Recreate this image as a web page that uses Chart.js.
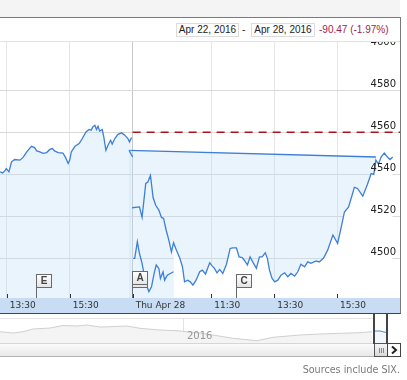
<!DOCTYPE html>
<html>
<head>
<meta charset="utf-8">
<script src="https://cdn.jsdelivr.net/npm/chart.js@4.4.0/dist/chart.umd.min.js"></script>
<style>
  body { margin: 0; width: 407px; height: 380px; position: relative; overflow: hidden; background: #fff; font-family: "DejaVu Sans", Verdana, sans-serif; }
  .abs { position: absolute; }
  #topbar { left: 0; top: 0; width: 400px; height: 17px; background: #f4f4f4; }
  #panel { left: -1px; top: 17px; width: 402px; height: 297px; box-sizing: border-box; border: 1px solid #7a7a7a; border-bottom-color: #444; }
  #sep { left: 0; top: 41px; width: 400px; height: 1px; background: #e2e2e2; }
  .datebox { top: 23px; height: 14px; box-sizing: border-box; border: 1px solid #dcdcdc; font: 10px "Liberation Sans", Arial, sans-serif; color: #222; line-height: 12px; text-align: center; }
  #band { left: 0; top: 298px; width: 400px; height: 15px; background: #c8dcf3; }
  #wrap { left: 0; top: 42px; width: 400px; height: 271px; }
  #navwrap { left: 0; top: 318px; width: 387px; height: 25px; }
  #navtop { left: 0; top: 318px; width: 374px; height: 1px; background: #e4e4e4; }
  #track { left: 0; top: 343px; width: 374px; height: 14px; box-sizing: border-box; border-top: 1px solid #d6d6d6; border-bottom: 1px solid #b5b5b5; background: linear-gradient(#fbfbfb, #e9e9e9); }
  #thumb { left: 374px; top: 343px; width: 14px; height: 14px; box-sizing: border-box; border: 1px solid #555; background: linear-gradient(#f6f6f6, #d8d8d8); }
  #btn { left: 387px; top: 343px; width: 14px; height: 14px; box-sizing: border-box; border: 1px solid #444; background: #fff; }
  .hline { width: 2px; top: 313px; height: 31px; background: #444; }
</style>
</head>
<body>
<div id="topbar" class="abs"></div>
<div id="panel" class="abs"></div>
<div id="band" class="abs"></div>
<div id="wrap" class="abs"><canvas id="myChart" width="400" height="271"></canvas></div>
<div id="sep" class="abs"></div>
<div class="abs datebox" style="left:176px;width:63px;">Apr 22, 2016</div>
<div class="abs" style="left:242px;top:24px;font:10px 'Liberation Sans',Arial,sans-serif;color:#222;">-</div>
<div class="abs datebox" style="left:251px;width:64px;">Apr 28, 2016</div>
<div class="abs" style="left:319px;top:24px;font:10px 'Liberation Sans',Arial,sans-serif;color:#a3234f;">-90.47 (-1.97%)</div>

<div id="navtop" class="abs"></div>
<div class="abs" style="left:183px;top:318px;width:1px;height:25px;background:#e2e2e2;"></div>
<div class="abs" style="left:21px;top:337px;width:1px;height:6px;background:#d0d0d0;"></div>
<div class="abs" style="left:339px;top:337px;width:1px;height:6px;background:#d0d0d0;"></div>
<div id="navwrap" class="abs"><canvas id="navChart" width="387" height="25"></canvas></div>
<div class="abs" style="left:187px;top:330px;font-size:10px;color:#999;">2016</div>
<div id="track" class="abs"></div>
<div id="thumb" class="abs"><svg width="12" height="12" style="display:block"><path d="M4.5 4v5M6.5 4v5M8.5 4v5" stroke="#888" stroke-width="1"/></svg></div>
<div id="btn" class="abs"><svg width="12" height="12" style="display:block"><path d="M4 2.5l4 3.5-4 3.5" fill="none" stroke="#222" stroke-width="2"/></svg></div>
<div class="abs hline" style="left:373px;"></div>
<div class="abs hline" style="left:386px;"></div>
<div class="abs" style="right:7px;top:364px;font-size:9.6px;color:#7a7a7a;">Sources include SIX.</div>

<script>
// time axis: trading minutes counted from Apr 27 09:00 (Apr 28 opens at 510)
const xTickValues = [270, 390, 510, 660, 780, 900];
const xTickLabels = ['13:30', '15:30', 'Thu Apr 28', '11:30', '13:30', '15:30'];
const yTickValues = [4500, 4520, 4540, 4560, 4580, 4600];
const prevClose = 4560;
const prevCloseRange = [510, 1020];

const apr27Times = [257, 262, 266, 269, 274, 279, 285, 295, 301, 308, 317, 323, 327, 333, 339, 346, 352, 357, 361, 368, 377, 382, 387, 390, 393, 400, 408, 414, 421, 427, 431, 434, 438, 441, 444, 447, 452, 455, 459, 463, 468, 471, 476, 482, 489, 495, 501, 504, 508];
const apr27Values = [4541.1, 4540.6, 4541.6, 4542.7, 4541.1, 4545.9, 4547.0, 4546.7, 4548.0, 4550.6, 4553.3, 4552.7, 4551.1, 4550.6, 4549.9, 4550.3, 4551.8, 4552.2, 4551.1, 4550.3, 4550.1, 4548.0, 4545.1, 4546.7, 4550.6, 4553.3, 4554.6, 4557.0, 4560.1, 4561.3, 4561.0, 4562.5, 4563.3, 4561.3, 4562.9, 4560.6, 4561.3, 4557.8, 4551.4, 4553.8, 4556.2, 4554.3, 4557.0, 4559.0, 4559.7, 4558.6, 4557.0, 4555.4, 4557.5];

const jumpTimes = [503, 974];
const jumpValues = [4551.4, 4548.2];
const spurTimes = [503, 510];
const spurValues = [4551.4, 4548.2];

const apr28Times = [509, 523, 528, 535, 539, 544, 549, 554, 560, 565, 569, 574, 579, 584, 588, 593, 600, 605, 609, 615, 620, 625, 631, 638, 643, 649, 657, 662, 666, 671, 676, 682, 689, 696, 701, 708, 713, 719, 723, 729, 734, 739, 746, 752, 757, 763, 767, 771, 776, 781, 787, 793, 800, 806, 812, 819, 825, 831, 838, 844, 850, 860, 866, 874, 882, 892, 901, 908, 914, 922, 933, 939, 949, 958, 965, 970, 974, 979, 984, 990, 996, 1001, 1006];
const apr28Values = [4524.0, 4524.4, 4519.4, 4535.6, 4536.3, 4539.4, 4528.9, 4525.2, 4522.9, 4519.4, 4518.9, 4513.3, 4508.6, 4503.0, 4507.3, 4504.1, 4499.9, 4495.9, 4488.7, 4489.5, 4488.7, 4487.1, 4489.5, 4493.5, 4494.3, 4492.4, 4497.8, 4496.2, 4495.1, 4493.0, 4494.6, 4492.7, 4497.1, 4504.6, 4504.9, 4504.9, 4500.6, 4500.3, 4499.0, 4496.7, 4500.6, 4498.2, 4495.1, 4500.6, 4500.6, 4502.5, 4499.9, 4494.3, 4490.3, 4488.7, 4489.5, 4491.9, 4493.0, 4491.1, 4492.7, 4491.4, 4493.5, 4497.1, 4495.9, 4498.2, 4497.5, 4498.7, 4498.2, 4499.9, 4503.8, 4511.0, 4507.0, 4514.9, 4522.0, 4524.4, 4533.7, 4533.2, 4529.5, 4535.2, 4540.3, 4539.9, 4546.7, 4544.8, 4548.2, 4550.1, 4548.2, 4547.0, 4548.2];

const openTimes = [511, 514, 519, 523, 528, 535, 541, 546, 551, 555, 560, 563, 568, 571, 576, 582, 588];
const openValues = [4499.9, 4499.9, 4507.8, 4502.2, 4497.5, 4488.0, 4484.0, 4486.3, 4492.7, 4496.7, 4495.1, 4490.3, 4493.5, 4489.5, 4491.9, 4492.7, 4493.5];

const flagLetters = ['E', 'A', 'C'];
const flagTimes = [325, 509, 708];
const flagStack = [1, 2, 1];

// navigator (whole history, small)
const navX = [0, 13, 23, 33, 50, 63, 77, 87, 100, 110, 127, 140, 160, 177, 186, 200, 213, 233, 257, 273, 300, 320, 340, 360, 372];
const navY = [11.3, 10, 11.3, 14, 15, 17.5, 17, 18, 16, 16.3, 17, 14.7, 13, 12.3, 11.3, 10, 8, 4.7, 2.3, 5.7, 8, 9, 9.7, 10.3, 11.3];
const navSelX = [374, 380, 387];
const navSelY = [12, 12, 10.3];

const pts = (xs, ys) => xs.map((x, i) => ({ x: x, y: ys[i] }));
const lineBlue = '#3d7fd6';
const fillBlue = 'rgba(185,218,248,0.3)';
const cutTime = 588;

function noPadding(scale) {
    scale.paddingLeft = 0;
    scale.paddingRight = 0;
    scale.paddingTop = 0;
    scale.paddingBottom = 0;
}

const flagPlugin = {
    id: 'flags',
    afterDatasetsDraw(chart) {
        const ctx = chart.ctx;
        const xs = chart.scales.x;
        const a = chart.chartArea;
        ctx.save();
        // small tick marks at the bottom of the plot
        ctx.strokeStyle = '#333';
        ctx.lineWidth = 1;
        xTickValues.forEach((t) => {
            const px = Math.round(xs.getPixelForValue(t)) + 0.5;
            ctx.beginPath();
            ctx.moveTo(px, a.bottom - 4);
            ctx.lineTo(px, a.bottom);
            ctx.stroke();
        });
        flagTimes.forEach((t, i) => {
            const px = Math.round(xs.getPixelForValue(t)) + 0.5;
            ctx.strokeStyle = '#6a6a6a';
            ctx.beginPath();
            ctx.moveTo(px, a.bottom - 10);
            ctx.lineTo(px, a.bottom);
            ctx.stroke();
            for (let k = 0; k < flagStack[i]; k++) {
                const top = a.bottom - 23.5 - 3 * k;
                const g = ctx.createLinearGradient(0, top, 0, top + 13);
                g.addColorStop(0, '#ffffff');
                g.addColorStop(1, '#e4e4e4');
                ctx.fillStyle = g;
                ctx.fillRect(px, top, 15, 13);
                ctx.strokeRect(px, top, 15, 13);
            }
            const top = a.bottom - 23.5 - 3 * (flagStack[i] - 1);
            ctx.fillStyle = '#444';
            ctx.font = 'bold 10px "Liberation Sans", Arial, sans-serif';
            ctx.textAlign = 'center';
            ctx.textBaseline = 'middle';
            ctx.fillText(flagLetters[i], px + 7.5, top + 7);
        });
        ctx.restore();
    }
};

const plainLine = (label, xs, ys, order) => ({
    label: label,
    data: pts(xs, ys),
    borderColor: lineBlue,
    borderWidth: 1.3,
    pointRadius: 0,
    fill: false,
    order: order
});

const data = {
    datasets: [{
            label: 'prev close',
            data: pts(prevCloseRange, [prevClose, prevClose]),
            borderColor: '#a8141c',
            borderWidth: 1.5,
            borderDash: [8, 6],
            pointRadius: 0,
            fill: false,
            order: 1
        },
        plainLine('Apr 28', apr28Times, apr28Values, 2),
        plainLine('Apr 28 open', openTimes, openValues, 3),
        plainLine('spur', spurTimes, spurValues, 3),
        {
            label: 'mask',
            data: pts(apr28Times, apr28Values).filter((p) => p.x >= cutTime),
            borderWidth: 0,
            borderColor: 'rgba(0,0,0,0)',
            backgroundColor: '#ffffff',
            pointRadius: 0,
            fill: 'start',
            order: 4
        },
        {
            label: 'Apr 27',
            data: pts(apr27Times, apr27Values),
            borderColor: lineBlue,
            backgroundColor: fillBlue,
            borderWidth: 1.3,
            pointRadius: 0,
            fill: 'start',
            order: 5
        },
        {
            label: 'jump',
            data: pts(jumpTimes, jumpValues),
            borderColor: lineBlue,
            backgroundColor: fillBlue,
            borderWidth: 1.3,
            pointRadius: 0,
            fill: 'start',
            order: 6
        }
    ]
};

const config = {
    type: 'line',
    data,
    options: {
        responsive: false,
        animation: false,
        layout: { padding: 0 },
        plugins: { legend: { display: false }, tooltip: { enabled: false } },
        scales: {
            x: {
                type: 'linear',
                min: 257,
                max: 1020,
                afterBuildTicks: (scale) => { scale.ticks = xTickValues.map((v) => ({ value: v })); },
                afterFit: (scale) => { scale.height = 15; noPadding(scale); },
                grid: {
                    drawTicks: false,
                    color: (c) => (c.tick && c.tick.value === 510 ? '#c9c9c9' : '#e6e6e6')
                },
                border: { display: false },
                ticks: {
                    autoSkip: false,
                    maxRotation: 0,
                    align: 'start',
                    labelOffset: 3,
                    padding: 2,
                    color: '#333',
                    font: { family: '"DejaVu Sans", Verdana, sans-serif', size: 9 },
                    callback: (v, i) => xTickLabels[i]
                }
            },
            y: {
                position: 'right',
                min: 4481,
                max: 4603,
                afterBuildTicks: (scale) => { scale.ticks = yTickValues.map((v) => ({ value: v })); },
                afterFit: (scale) => { scale.width = 0; noPadding(scale); },
                grid: {
                    drawTicks: false,
                    color: (c) => (c.tick && c.tick.value === 4600 ? 'rgba(0,0,0,0)' : '#dadada')
                },
                border: { display: false },
                ticks: {
                    z: 1,
                    mirror: true,
                    padding: -4,
                    labelOffset: -6,
                    color: '#222',
                    font: { family: '"DejaVu Sans", Verdana, sans-serif', size: 10 },
                    callback: (v) => String(v)
                }
            }
        }
    },
    plugins: [flagPlugin]
};

let myChart = new Chart(document.getElementById('myChart'), config);

let navChart = new Chart(document.getElementById('navChart'), {
    type: 'line',
    data: {
        datasets: [{
                data: pts(navSelX, navSelY),
                borderColor: '#4a86d8',
                backgroundColor: '#f1f7fd',
                borderWidth: 1,
                pointRadius: 0,
                fill: 'start'
            },
            {
                data: pts(navX, navY),
                borderColor: '#cfcfcf',
                backgroundColor: '#f4f4f4',
                borderWidth: 1,
                pointRadius: 0,
                fill: 'start'
            }
        ]
    },
    options: {
        responsive: false,
        animation: false,
        layout: { padding: 0 },
        plugins: { legend: { display: false }, tooltip: { enabled: false } },
        scales: {
            x: { type: 'linear', min: 0, max: 387, display: false },
            y: { min: 0, max: 25, display: false }
        }
    }
});
</script>
</body>
</html>
